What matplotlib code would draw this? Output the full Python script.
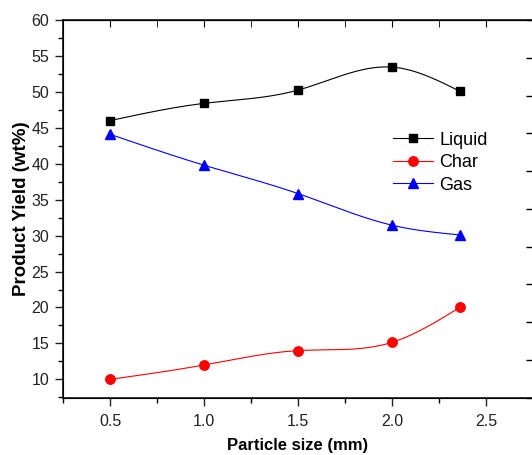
import numpy as np
import matplotlib.pyplot as plt
from matplotlib.ticker import MultipleLocator

plt.rcParams['font.family'] = ['Liberation Sans', 'DejaVu Sans']

size = [0.5, 1.0, 1.5, 2.0, 2.36]
liquid = [46.0, 48.4, 50.25, 53.45, 50.1]
char = [10.0, 12.0, 14.0, 15.15, 20.0]
gas = [44.1, 39.8, 35.85, 31.45, 30.1]


def spline(x, y, n=200):
    # natural cubic spline, like Origin's "Spline" connector
    x = np.asarray(x, float)
    y = np.asarray(y, float)
    h = np.diff(x)
    k = len(x)
    A = np.zeros((k, k))
    b = np.zeros(k)
    A[0, 0] = A[-1, -1] = 1
    for i in range(1, k - 1):
        A[i, i - 1] = h[i - 1]
        A[i, i] = 2 * (h[i - 1] + h[i])
        A[i, i + 1] = h[i]
        b[i] = 6 * ((y[i + 1] - y[i]) / h[i] - (y[i] - y[i - 1]) / h[i - 1])
    m = np.linalg.solve(A, b)
    xs = np.linspace(x[0], x[-1], n)
    j = np.clip(np.searchsorted(x, xs) - 1, 0, k - 2)
    t0 = x[j + 1] - xs
    t1 = xs - x[j]
    hj = h[j]
    ys = (m[j] * t0 ** 3 + m[j + 1] * t1 ** 3) / (6 * hj) \
        + (y[j] / hj - m[j] * hj / 6) * t0 + (y[j + 1] / hj - m[j + 1] * hj / 6) * t1
    return xs, ys


fig = plt.figure(figsize=(5.32, 4.55), dpi=100)
ax = fig.add_axes([63 / 532, 57.3 / 455, 470 / 532, 377.7 / 455])

series = [(liquid, 'black', 's', 6.2, 'Liquid'),
          (char, 'red', 'o', 6.8, 'Char'),
          (gas, 'blue', '^', 7.8, 'Gas')]
for vals, c, mk, ms, lab in series:
    xs, ys = spline(size, vals)
    ax.plot(xs, ys, color=c, lw=0.8)
    ax.plot(size, vals, ls='none', marker=mk, ms=ms, color=c)
    ax.plot([], [], color=c, lw=0.8, marker=mk, ms=ms, label=lab)

ax.set_xlim(0.25, 2.75)
ax.set_ylim(7.45, 60)
ax.xaxis.set_major_locator(MultipleLocator(0.5))
ax.xaxis.set_minor_locator(MultipleLocator(0.25))
ax.yaxis.set_minor_locator(MultipleLocator(2.5))
ax.set_yticks([10, 15, 20, 25, 30, 35, 40, 45, 50, 55, 60])
ax.tick_params(axis='both', which='major', direction='out', length=6, width=1, labelsize=11.5,
               colors='#222222', pad=4)
ax.tick_params(axis='x', which='major', pad=6)
ax.tick_params(axis='both', which='minor', direction='out', length=3.5, width=1)
for spine in ax.spines.values():
    spine.set_linewidth(1.1)

# inward ticks on the top edge
top = ax.secondary_xaxis('top')
top.xaxis.set_major_locator(MultipleLocator(0.5))
top.xaxis.set_minor_locator(MultipleLocator(0.25))
top.tick_params(which='both', direction='in', length=5, labeltop=False)

# right axis ticks (inward, no labels)
ax2 = ax.twinx()
ax2.set_ylim(0, 10)
ax2.yaxis.set_major_locator(MultipleLocator(1))
ax2.tick_params(axis='y', direction='in', length=5, width=1, labelright=False)

ax.set_xlabel('Particle size (mm)', fontsize=12, fontweight='bold', labelpad=6.5)
ax.set_ylabel('Product Yield (wt%)', fontsize=13.5, fontweight='bold', labelpad=1)

ax2.legend(*ax.get_legend_handles_labels(), loc='upper left', bbox_to_anchor=(0.703, 0.704),
           frameon=False, fontsize=13, handlelength=2.2, handletextpad=0.35, labelspacing=0.3,
           borderaxespad=0, borderpad=0)

fig.savefig('out.png', dpi=100)
